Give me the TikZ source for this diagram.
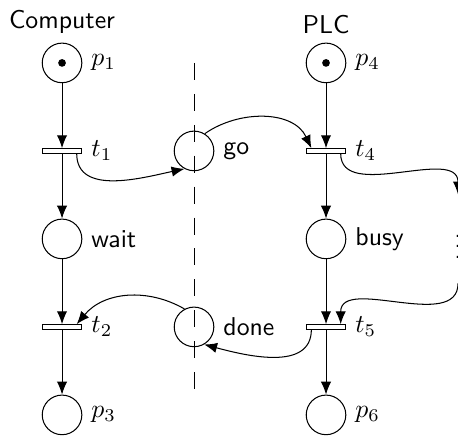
\documentclass[tikz,border=0pt]{standalone}
\usepackage{tikz}
\usetikzlibrary{arrows.meta}
\tikzstyle{place} = [circle, draw, minimum size=5.4mm, inner sep=0pt]
\tikzstyle{transition} = [rectangle, draw, fill=white, minimum width=5.4mm, minimum height=0.6mm, inner sep=0pt]
\tikzstyle{flow} = [->, >={Latex[length=5pt, width=4pt]}]
\tikzstyle{token} = [circle, fill, inner sep=0pt, minimum size=3pt]

\begin{document}
\begin{tikzpicture}[x=0.6cm, y=0.6cm, font=\sffamily]
    \clip (-1.41,-8.55) rectangle (9.0,1.43);

    % separation between the two sides
    \draw[dash pattern=on 6.6pt off 5.4pt] (3,0) -- (3,-7.65);

    % Computer side
    \node[place, label=right:$p_1$, label=above:Computer] (p1) at (0,0) {};
    \node[token] at (p1) {};
    \node[transition, label=right:$t_1$] (t1) at (0,-2) {};
    \node[place, label=right:wait] (wait) at (0,-4) {};
    \node[transition, label=right:$t_2$] (t2) at (0,-6) {};
    \node[place, label=right:$p_3$] (p3) at (0,-8) {};

    % shared places
    \node[place, label=right:go] (go) at (3,-2) {};
    \node[place, label=right:done] (done) at (3,-6) {};

    % PLC side
    \node[place, label=right:$p_4$, label=above:PLC] (p4) at (6,0) {};
    \node[token] at (p4) {};
    \node[transition, label=right:$t_4$] (t4) at (6,-2) {};
    \node[place, label=right:busy] (busy) at (6,-4) {};
    \node[transition, label=right:$t_5$] (t5) at (6,-6) {};
    \node[place, label=right:$p_6$] (p6) at (6,-8) {};

    % rest of the PLC net
    \node[minimum height=1.2cm, inner sep=0pt] (more) at (9,-4) {$\vdots$};

    % Arcs
    \draw[flow] (p1) -- (t1);
    \draw[flow] (t1) -- (wait);
    \draw[flow] (wait) -- (t2);
    \draw[flow] (t2) -- (p3);
    \draw[flow] (p4) -- (t4);
    \draw[flow] (t4) -- (busy);
    \draw[flow] (busy) -- (t5);
    \draw[flow] (t5) -- (p6);

    \draw[flow] ([xshift=2mm]t1.south) to[out=-90, in=192] (go.242);
    \draw[flow] (go.58) to[out=35, in=115] ([xshift=-2mm]t4.north);
    \draw[flow] ([xshift=2mm]t4.south) to[out=-90, in=90] (more.north);
    \draw[flow] (more.south) to[out=-90, in=90] ([xshift=2mm]t5.north);
    \draw[flow] ([xshift=-2mm]t5.south) to[out=-90, in=-15] (done.-60);
    \draw[flow] (done.118) to[out=150, in=50] ([xshift=2mm]t2.north);
\end{tikzpicture}
\end{document}
